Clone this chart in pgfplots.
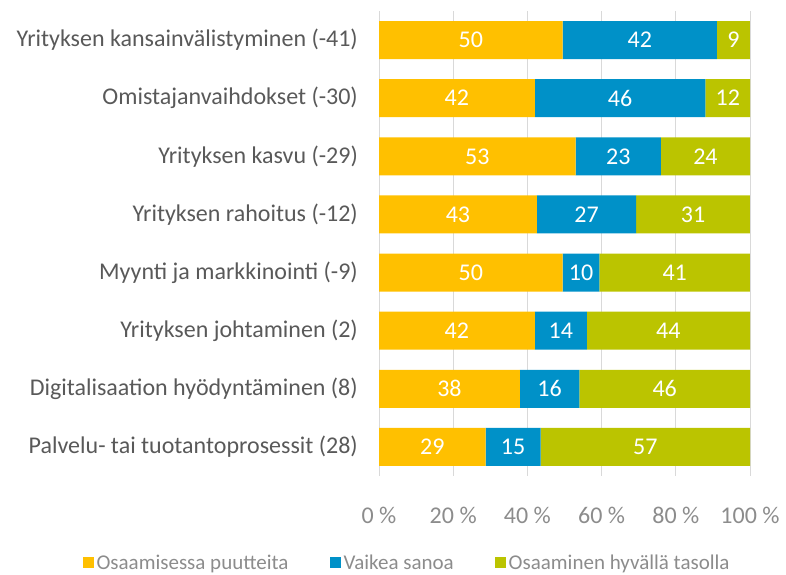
\documentclass[border=0pt]{standalone}
\usepackage{fontspec}
\setmainfont{Carlito}
\usepackage{pgfplots}
\pgfplotsset{compat=1.18}
\definecolor{cyel}{HTML}{FFC000}
\definecolor{cblu}{HTML}{0091C8}
\definecolor{cgrn}{HTML}{BBC400}
\definecolor{ctxt}{HTML}{595959}
\definecolor{ctick}{HTML}{8C8C8C}
\definecolor{cgrid}{HTML}{D9D9D9}
\begin{document}
\begin{tikzpicture}
\path[use as bounding box] (0,0) rectangle (786pt,574pt);
\begin{axis}[
  at={(379pt,98pt)}, anchor=south west,
  width=371pt, height=465pt, scale only axis,
  xbar stacked, bar width=38pt,
  xmin=0, xmax=100, ymin=-0.5, ymax=7.5, y dir=reverse,
  axis line style={draw=none},
  major tick length=0pt,
  xtick={0,20,...,100},
  xticklabels={0 \%,20 \%,40 \%,60 \%,80 \%,100 \%},
  ytick={0,...,7},
  yticklabels={Yrityksen kansainvälistyminen (-41),Omistajanvaihdokset (-30),Yrityksen kasvu (-29),Yrityksen rahoitus (-12),Myynti ja markkinointi (-9),Yrityksen johtaminen (2),Digitalisaation hyödyntäminen (8),Palvelu- tai tuotantoprosessit (28)},
  xmajorgrids, grid style={cgrid, line width=0.9pt},
  xticklabel style={font=\fontsize{24}{28}\selectfont, text=ctick, anchor=base, inner sep=0pt, yshift=-47pt},
  yticklabel style={font=\fontsize{24}{28}\selectfont, text=ctxt, anchor=east, inner sep=0pt, xshift=-21pt},
  point meta=explicit symbolic,
  nodes near coords,
  every node near coord/.append style={anchor=center, text=white, font=\fontsize{24}{28}\selectfont},
  legend columns=3,
  legend style={at={(0.077,-0.187)}, anchor=center, draw=none, fill=none, font=\fontsize{21}{25}\selectfont, text=ctick, nodes={inner xsep=3pt}, /tikz/every even column/.append style={column sep=38pt}},
  legend image code/.code={\fill[#1] (0pt,-5.5pt) rectangle (11pt,5.5pt);},
]
\addplot[fill=cyel, draw=none] coordinates {(49.50,0) [50] (42,1) [42] (53,2) [53] (42.57,3) [43] (49.50,4) [50] (42,5) [42] (38,6) [38] (28.71,7) [29]};
\addlegendentry{Osaamisessa puutteita}
\addplot[fill=cblu, draw=none] coordinates {(41.58,0) [42] (46,1) [46] (23,2) [23] (26.73,3) [27] (9.90,4) [10] (14,5) [14] (16,6) [16] (14.85,7) [15]};
\addlegendentry{Vaikea sanoa}
\addplot[fill=cgrn, draw=none] coordinates {(8.91,0) [9] (12,1) [12] (24,2) [24] (30.69,3) [31] (40.59,4) [41] (44,5) [44] (46,6) [46] (56.44,7) [57]};
\addlegendentry{Osaaminen hyvällä tasolla}
\end{axis}
\end{tikzpicture}
\end{document}
